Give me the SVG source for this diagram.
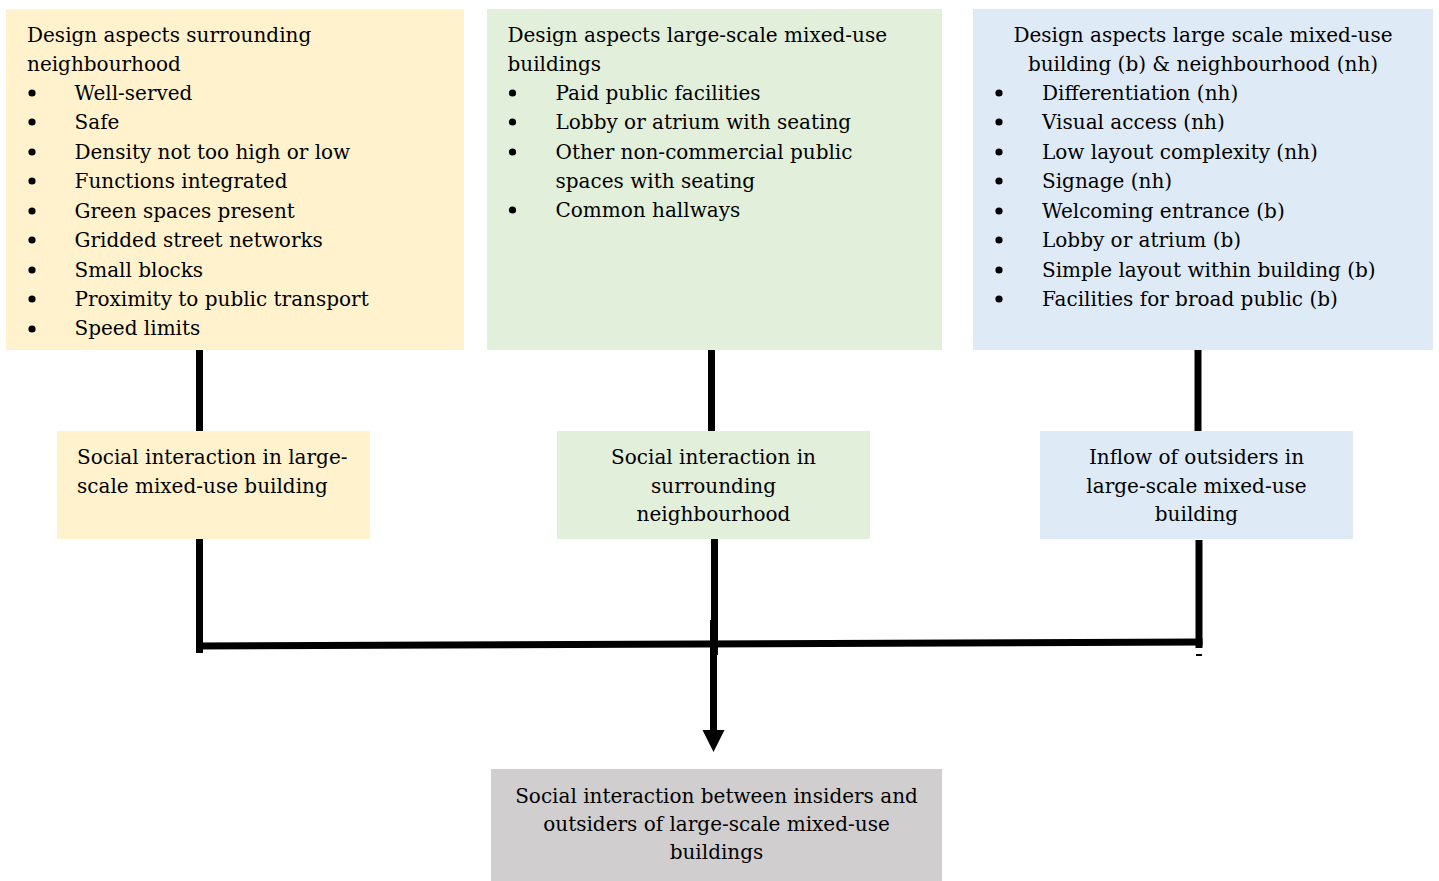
<svg xmlns="http://www.w3.org/2000/svg" width="1439" height="881" viewBox="0 0 1439 881">
  <style>
    text { font-family: "DejaVu Serif", "Liberation Serif", serif; font-size: 20px; fill: #000; }
    .mid { text-anchor: middle; }
    .yellow { fill: #FFF2CC; }
    .green { fill: #E2EFDA; }
    .blue { fill: #DEEAF6; }
    .grey { fill: #D0CECE; }
    .link { stroke: #000; stroke-width: 7; fill: none; }
    .dot { fill: #000; }
  </style>
  <defs>
    <marker id="arrow" markerUnits="userSpaceOnUse" markerWidth="24" markerHeight="24" refX="0" refY="11" orient="auto">
      <path d="M0,0 L22,11 L0,22 Z" fill="#000"/>
    </marker>
  </defs>
  <rect width="1439" height="881" fill="#fff"/>

  <!-- connectors -->
  <g id="connectors">
    <line class="link" x1="199.5" y1="344" x2="199.5" y2="432"/>
    <line class="link" x1="711.5" y1="344" x2="711.5" y2="432"/>
    <line class="link" x1="1198" y1="344" x2="1198" y2="432"/>
    <line class="link" x1="199.5" y1="537" x2="199.5" y2="653"/>
    <line class="link" x1="714.5" y1="537" x2="714.5" y2="655"/>
    <line class="link" x1="1199" y1="540" x2="1199" y2="648"/>
    <line class="link" x1="196" y1="646" x2="1202.5" y2="642"/>
    <line class="link" x1="713.5" y1="620" x2="713.5" y2="730" marker-end="url(#arrow)"/>
    <rect x="1196" y="654" width="6" height="2" fill="#000"/>
  </g>

  <!-- top row -->
  <g id="node-neighbourhood-design">
    <rect class="yellow" x="6" y="9" width="458" height="341"/>
    <text x="27" y="42">Design aspects surrounding</text>
    <text x="27" y="71">neighbourhood</text>
    <g class="dot">
      <circle cx="32" cy="93" r="3.6"/><circle cx="32" cy="122" r="3.6"/><circle cx="32" cy="152" r="3.6"/>
      <circle cx="32" cy="181" r="3.6"/><circle cx="32" cy="211" r="3.6"/><circle cx="32" cy="240" r="3.6"/>
      <circle cx="32" cy="270" r="3.6"/><circle cx="32" cy="299" r="3.6"/><circle cx="32" cy="329" r="3.6"/>
    </g>
    <text x="74.5" y="99.5">Well-served</text>
    <text x="74.5" y="129">Safe</text>
    <text x="74.5" y="158.5">Density not too high or low</text>
    <text x="74.5" y="188">Functions integrated</text>
    <text x="74.5" y="217.5">Green spaces present</text>
    <text x="74.5" y="247">Gridded street networks</text>
    <text x="74.5" y="276.5">Small blocks</text>
    <text x="74.5" y="305.5">Proximity to public transport</text>
    <text x="74.5" y="335">Speed limits</text>
  </g>

  <g id="node-building-design">
    <rect class="green" x="487" y="9" width="455" height="341"/>
    <text x="507.5" y="42">Design aspects large-scale mixed-use</text>
    <text x="507.5" y="71">buildings</text>
    <g class="dot">
      <circle cx="512.5" cy="93" r="3.6"/><circle cx="512.5" cy="122" r="3.6"/>
      <circle cx="512.5" cy="152" r="3.6"/><circle cx="512.5" cy="210" r="3.6"/>
    </g>
    <text x="555.5" y="99.5">Paid public facilities</text>
    <text x="555.5" y="129">Lobby or atrium with seating</text>
    <text x="555.5" y="158.5">Other non-commercial public</text>
    <text x="555.5" y="187.5">spaces with seating</text>
    <text x="555.5" y="217">Common hallways</text>
  </g>

  <g id="node-combined-design">
    <rect class="blue" x="973" y="9" width="460" height="341"/>
    <text class="mid" x="1203" y="42">Design aspects large scale mixed-use</text>
    <text class="mid" x="1203" y="71">building (b) &amp; neighbourhood (nh)</text>
    <g class="dot">
      <circle cx="999" cy="93" r="3.6"/><circle cx="999" cy="122" r="3.6"/><circle cx="999" cy="152" r="3.6"/>
      <circle cx="999" cy="181" r="3.6"/><circle cx="999" cy="211" r="3.6"/><circle cx="999" cy="240" r="3.6"/>
      <circle cx="999" cy="270" r="3.6"/><circle cx="999" cy="299" r="3.6"/>
    </g>
    <text x="1042" y="99.5">Differentiation (nh)</text>
    <text x="1042" y="129">Visual access (nh)</text>
    <text x="1042" y="158.5">Low layout complexity (nh)</text>
    <text x="1042" y="188">Signage (nh)</text>
    <text x="1042" y="217.5">Welcoming entrance (b)</text>
    <text x="1042" y="247">Lobby or atrium (b)</text>
    <text x="1042" y="276.5">Simple layout within building (b)</text>
    <text x="1042" y="305.5">Facilities for broad public (b)</text>
  </g>

  <!-- middle row -->
  <g id="node-interaction-building">
    <rect class="yellow" x="57" y="431" width="313" height="108"/>
    <text x="77" y="464">Social interaction in large-</text>
    <text x="77" y="492.5">scale mixed-use building</text>
  </g>

  <g id="node-interaction-neighbourhood">
    <rect class="green" x="557" y="431" width="313" height="108"/>
    <text class="mid" x="713.5" y="464">Social interaction in</text>
    <text class="mid" x="713.5" y="492.5">surrounding</text>
    <text class="mid" x="713.5" y="520.5">neighbourhood</text>
  </g>

  <g id="node-inflow-outsiders">
    <rect class="blue" x="1040" y="431" width="313" height="108"/>
    <text class="mid" x="1196.5" y="464">Inflow of outsiders in</text>
    <text class="mid" x="1196.5" y="492.5">large-scale mixed-use</text>
    <text class="mid" x="1196.5" y="520.5">building</text>
  </g>

  <!-- outcome -->
  <g id="node-outcome">
    <rect class="grey" x="491" y="769" width="451" height="112"/>
    <text class="mid" x="716.5" y="803">Social interaction between insiders and</text>
    <text class="mid" x="716.5" y="831">outsiders of large-scale mixed-use</text>
    <text class="mid" x="716.5" y="858.5">buildings</text>
  </g>
</svg>
